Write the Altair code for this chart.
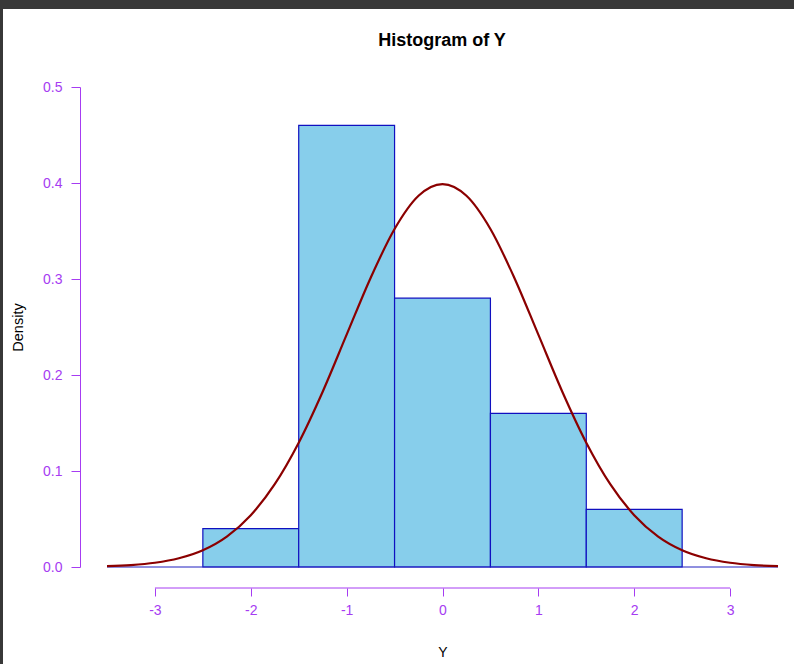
import altair as alt
import pandas as pd

# Histogram bins (break points) and densities
bin_start = [-2.5, -1.5, -0.5, 0.5, 1.5]
bin_end = [-1.5, -0.5, 0.5, 1.5, 2.5]
density = [0.04, 0.46, 0.28, 0.16, 0.06]

# Standard normal density overlay
curve_x = [-3.5, -3.25, -3.0, -2.75, -2.5, -2.25, -2.0, -1.75, -1.5, -1.25, -1.0,
           -0.75, -0.5, -0.25, 0.0, 0.25, 0.5, 0.75, 1.0, 1.25, 1.5, 1.75, 2.0,
           2.25, 2.5, 2.75, 3.0, 3.25, 3.5]
curve_y = [0.0009, 0.0020, 0.0044, 0.0091, 0.0175, 0.0317, 0.0540, 0.0863, 0.1295,
           0.1826, 0.2420, 0.3011, 0.3521, 0.3867, 0.3989, 0.3867, 0.3521, 0.3011,
           0.2420, 0.1826, 0.1295, 0.0863, 0.0540, 0.0317, 0.0175, 0.0091, 0.0044,
           0.0020, 0.0009]

x_ticks = [-3, -2, -1, 0, 1, 2, 3]
y_ticks = [0.0, 0.1, 0.2, 0.3, 0.4, 0.5]

AXIS_COL = "#A63CF2"
FONT = "Liberation Sans"

bars_df = pd.DataFrame({"start": bin_start, "end": bin_end, "density": density})
curve_df = pd.DataFrame({"x": curve_x, "y": curve_y})

x_scale = alt.Scale(domain=[-3.5, 3.5], nice=False, zero=False)
y_scale = alt.Scale(domain=[0, 0.5], nice=False)

x_axis = alt.Axis(
    values=x_ticks, labelExpr="'' + datum.value", domain=False, grid=False,
    offset=21, tickSize=8, tickColor=AXIS_COL, labelColor=AXIS_COL,
    labelFontSize=14, labelFont=FONT, labelPadding=7, zindex=1,
    title="Y", titleFont=FONT, titleFontSize=14, titleFontWeight="normal",
    titleColor="#000000", titlePadding=28,
)
y_axis = alt.Axis(
    values=y_ticks, labelExpr="format(datum.value, '.1f')", grid=False,
    offset=27, tickSize=9, tickColor=AXIS_COL, domainColor=AXIS_COL,
    labelColor=AXIS_COL, labelFontSize=14, labelFont=FONT, labelPadding=9,
    zindex=1,
    title="Density", titleFont=FONT, titleFontSize=14.5, titleFontWeight="normal",
    titleColor="#000000", titlePadding=17,
)

# White page inside the dark window frame
frame = alt.Chart(alt.Data(values=[{}])).mark_rect(color="white").encode(
    x=alt.value(-104), x2=alt.value(687), y=alt.value(-78), y2=alt.value(577)
)

bars = alt.Chart(bars_df).mark_rect(
    color="#87CEEB", stroke="#1010C0", strokeWidth=1.2
).encode(
    x=alt.X("start:Q", scale=x_scale, axis=x_axis),
    x2="end:Q",
    y=alt.Y("density:Q", scale=y_scale, axis=y_axis),
    y2=alt.datum(0),
)

baseline = alt.Chart(alt.Data(values=[{"a": -3.5, "b": 3.5, "z": 0}])).mark_rule(
    color="#2020C0", strokeWidth=1
).encode(x=alt.X("a:Q", scale=x_scale), x2="b:Q", y=alt.Y("z:Q", scale=y_scale))

x_line = alt.Chart(alt.Data(values=[{"a": -3, "b": 3}])).mark_rule(
    color=AXIS_COL, strokeWidth=1
).encode(x=alt.X("a:Q", scale=x_scale), x2="b:Q", y=alt.value(501))

curve = alt.Chart(curve_df).mark_line(
    color="#8B0000", strokeWidth=2.2, interpolate="monotone"
).encode(x=alt.X("x:Q", scale=x_scale), y=alt.Y("y:Q", scale=y_scale))

title = alt.Chart(alt.Data(values=[{"t": "Histogram of Y"}])).mark_text(
    font=FONT, fontSize=18, fontWeight="bold", color="#000000",
    align="center", baseline="middle",
).encode(text="t:N", x=alt.value(335), y=alt.value(-46))

chart = alt.layer(frame, bars, baseline, x_line, curve, title).properties(
    width=671, height=480,
    background="#383838",
    padding={"left": 107, "top": 87, "right": 16, "bottom": 97},
    autosize=alt.AutoSizeParams(type="none"),
).configure_view(stroke=None)

chart.save("out.html", embed_options={"renderer": "svg", "actions": False})
